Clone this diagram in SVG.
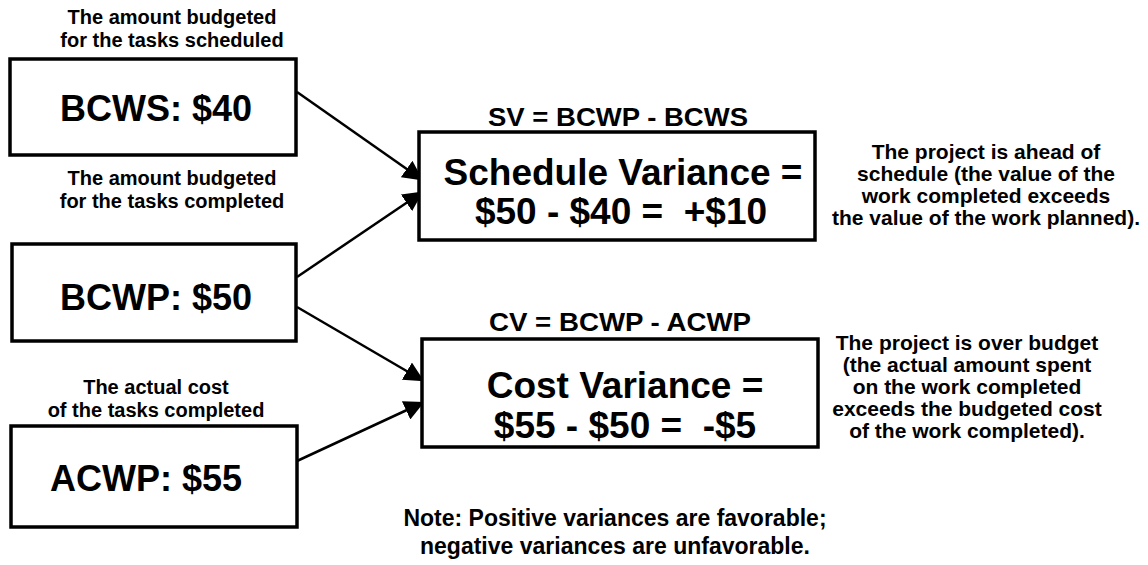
<svg xmlns="http://www.w3.org/2000/svg" width="1148" height="565" viewBox="0 0 1148 565">
<style>
text{font-family:"Liberation Sans",Arial,sans-serif;font-weight:bold;fill:#000;text-anchor:middle;white-space:pre}
.box{fill:#fff;stroke:#000;stroke-width:3.5}
.ann{font-size:20px}
.big{font-size:36px}
.var{font-size:37px}
.frm{font-size:26px}
.side{font-size:21px}
.note{font-size:23px}
.con{stroke:#000;stroke-width:2.5;fill:none;marker-end:url(#ah)}
</style>
<defs>
<marker id="ah" markerWidth="8" markerHeight="8" refX="7" refY="4" orient="auto" markerUnits="strokeWidth" viewBox="0 0 8 8">
<path d="M0,0 L8,4 L0,8 z" fill="#000"/>
</marker>
</defs>
<rect width="1148" height="565" fill="#fff"/>
<g id="connectors">
<line class="con" x1="297" y1="92" x2="421" y2="179"/>
<line class="con" x1="297" y1="277" x2="421" y2="193"/>
<line class="con" x1="297" y1="307" x2="422" y2="380"/>
<line class="con" x1="297" y1="461" x2="422" y2="403"/>
</g>
<g id="bcws">
<text class="ann" x="172" y="24">The amount budgeted</text>
<text class="ann" x="172" y="47">for the tasks scheduled</text>
<rect class="box" x="10" y="59" width="286" height="96"/>
<text class="big" x="156" y="121">BCWS: $40</text>
</g>
<g id="bcwp">
<text class="ann" x="172" y="185">The amount budgeted</text>
<text class="ann" x="172" y="208">for the tasks completed</text>
<rect class="box" x="12" y="244" width="284" height="97"/>
<text class="big" x="156" y="310">BCWP: $50</text>
</g>
<g id="acwp">
<text class="ann" x="156" y="394">The actual cost</text>
<text class="ann" x="156" y="417">of the tasks completed</text>
<rect class="box" x="11" y="426" width="286" height="101"/>
<text class="big" x="146" y="491">ACWP: $55</text>
</g>
<g id="sv">
<text class="frm" x="618" y="126" textLength="260" lengthAdjust="spacingAndGlyphs">SV = BCWP - BCWS</text>
<rect class="box" x="419" y="132" width="396" height="108"/>
<text class="var" x="623" y="185">Schedule Variance =</text>
<text class="var" x="621" y="224">$50 - $40 =  +$10</text>
</g>
<g id="cv">
<text class="frm" x="620" y="331" textLength="262" lengthAdjust="spacingAndGlyphs">CV = BCWP - ACWP</text>
<rect class="box" x="422" y="339" width="396" height="108"/>
<text class="var" x="625" y="398">Cost Variance =</text>
<text class="var" x="625" y="438">$55 - $50 =  -$5</text>
</g>
<g id="sv-note">
<text class="side" x="986" y="159">The project is ahead of</text>
<text class="side" x="986" y="181">schedule (the value of the</text>
<text class="side" x="986" y="203">work completed exceeds</text>
<text class="side" x="986" y="225">the value of the work planned).</text>
</g>
<g id="cv-note">
<text class="side" x="967" y="350">The project is over budget</text>
<text class="side" x="967" y="372">(the actual amount spent</text>
<text class="side" x="967" y="394">on the work completed</text>
<text class="side" x="967" y="416">exceeds the budgeted cost</text>
<text class="side" x="967" y="438">of the work completed).</text>
</g>
<g id="note">
<text class="note" x="615" y="526">Note: Positive variances are favorable;</text>
<text class="note" x="615" y="554">negative variances are unfavorable.</text>
</g>
</svg>
